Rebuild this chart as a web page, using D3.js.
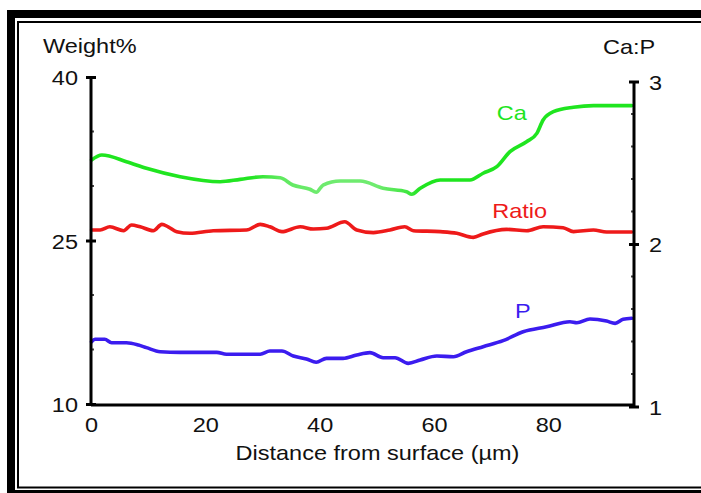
<!DOCTYPE html>
<html>
<head>
<meta charset="utf-8">
<script src="https://cdn.jsdelivr.net/npm/d3@7"></script>
<style>
  html, body { margin: 0; padding: 0; background: #fff; }
  svg { display: block; }
  text { font-family: "Liberation Sans", Arial, Helvetica, sans-serif; }
</style>
</head>
<body>
<script>
// ---------- data ----------
const caDist   = [0.1, 1.9, 6.2, 9.7, 15.6, 22.6, 26.1, 30.1, 33.1, 35.3, 38.3, 39.4, 40.6, 43.6, 47.1, 51.1, 55.2, 56.1, 57.6, 61.1, 66.3, 68.6, 71.0, 73.3, 76.2, 78.0, 79.1, 80.9, 84.4, 87.9, 94.6];
const caValues = [32.39, 32.84, 32.23, 31.62, 30.85, 30.39, 30.61, 30.85, 30.76, 30.09, 29.70, 29.42, 30.09, 30.46, 30.46, 29.79, 29.48, 29.24, 29.79, 30.55, 30.55, 31.17, 31.77, 33.15, 34.06, 34.83, 36.06, 36.82, 37.22, 37.37, 37.37];

const ratioDist   = [0.1, 1.6, 3.3, 5.7, 7.1, 8.6, 10.9, 12.4, 13.5, 15.0, 17.3, 21.4, 27.2, 29.6, 31.3, 33.4, 36.6, 38.9, 41.2, 44.4, 46.5, 49.4, 52.3, 54.9, 56.4, 61.1, 64.0, 66.9, 68.6, 72.7, 76.2, 79.1, 82.6, 84.4, 87.9, 90.2, 94.6];
const ratioValues = [2.086, 2.086, 2.106, 2.082, 2.117, 2.106, 2.082, 2.121, 2.106, 2.076, 2.066, 2.082, 2.086, 2.121, 2.106, 2.076, 2.106, 2.092, 2.097, 2.137, 2.086, 2.070, 2.086, 2.106, 2.082, 2.076, 2.066, 2.041, 2.062, 2.090, 2.082, 2.106, 2.100, 2.076, 2.086, 2.074, 2.074];

const pDist   = [0.1, 0.7, 2.4, 3.6, 6.2, 8.3, 9.7, 12.1, 15.6, 22.0, 23.7, 29.6, 31.3, 33.4, 35.4, 37.7, 39.4, 41.2, 44.1, 46.5, 48.8, 51.1, 53.2, 55.5, 57.6, 60.5, 63.4, 65.7, 68.6, 72.1, 75.6, 79.7, 83.8, 85.0, 87.3, 90.2, 91.7, 93.1, 94.6];
const pValues = [15.72, 15.94, 15.94, 15.62, 15.62, 15.41, 15.17, 14.80, 14.74, 14.74, 14.56, 14.56, 14.86, 14.86, 14.40, 14.13, 13.83, 14.19, 14.19, 14.50, 14.71, 14.25, 14.25, 13.73, 14.04, 14.40, 14.34, 14.80, 15.26, 15.81, 16.63, 17.09, 17.55, 17.46, 17.80, 17.61, 17.40, 17.77, 17.86];

const xTicks      = [0, 20, 40, 60, 80];
const yLeftTicks  = [10, 25, 40];
const yLeftMinor  = [15, 20, 30, 35];
const yRightTicks = [1, 2, 3];
const yRightMinor = [1.2, 1.4, 1.6, 1.8, 2.2, 2.4, 2.6, 2.8];

const leftTitle  = "Weight%";
const rightTitle = "Ca:P";
const xTitle     = "Distance from surface (\u00b5m)";
const seriesNames = ["Ca", "Ratio", "P"];

// ---------- layout ----------
const W = 701, H = 493;
const SX = 1.12; // horizontal stretch of the original lettering
const FS = 21;

const svg = d3.select("body").append("svg").attr("width", W).attr("height", H);

// frame
svg.append("rect").attr("x", 11).attr("y", 14).attr("width", 720).attr("height", 480)
  .attr("fill", "none").attr("stroke", "#000").attr("stroke-width", 8);
svg.append("rect").attr("x", 18).attr("y", 22).attr("width", 720).attr("height", 465.5)
  .attr("fill", "none").attr("stroke", "#000").attr("stroke-width", 2);

const x = d3.scaleLinear().domain([0, 95]).range([91, 634]);
const yL = d3.scaleLinear().domain([10, 40]).range([404, 77]);
const yR = d3.scaleLinear().domain([1, 3]).range([406.5, 81.5]);

function stretchText(sel, anchor) {
  sel.each(function () {
    const t = d3.select(this);
    const xv = +t.attr("x") || 0;
    t.attr("x", xv / SX).attr("transform", `scale(${SX},1)`);
  });
}

// minor ticks (small dots inside)
svg.append("g").selectAll("line").data(yLeftMinor).join("line")
  .attr("x1", x(0) + 1).attr("x2", x(0) + 3)
  .attr("y1", d => yL(d)).attr("y2", d => yL(d))
  .attr("stroke", "#444").attr("stroke-width", 2);
svg.append("g").selectAll("line").data(yRightMinor).join("line")
  .attr("x1", x(95) - 3).attr("x2", x(95) - 1)
  .attr("y1", d => yR(d)).attr("y2", d => yR(d))
  .attr("stroke", "#444").attr("stroke-width", 2);

// ---------- series ----------
const lineL = d3.line().x(d => x(d[0])).y(d => yL(d[1])).curve(d3.curveMonotoneX);
const lineR = d3.line().x(d => x(d[0])).y(d => yR(d[1])).curve(d3.curveMonotoneX);

const defs = svg.append("defs");
const grad = defs.append("linearGradient").attr("id", "caGrad")
  .attr("gradientUnits", "userSpaceOnUse")
  .attr("x1", x(0)).attr("x2", x(95)).attr("y1", 0).attr("y2", 0);
const gStops = [[0, "#1fe51f"], [28, "#22e522"], [33, "#5fe95f"], [40, "#6feb6f"], [50, "#6feb6f"], [55, "#45e745"], [58, "#1fe51f"], [95, "#1fe51f"]];
grad.selectAll("stop").data(gStops).join("stop")
  .attr("offset", d => d[0] / 95).attr("stop-color", d => d[1]);

svg.append("path").datum(d3.zip(caDist, caValues))
  .attr("d", lineL).attr("fill", "none").attr("stroke", "url(#caGrad)")
  .attr("stroke-width", 3.6).attr("stroke-linejoin", "round").attr("stroke-linecap", "round");
svg.append("path").datum(d3.zip(ratioDist, ratioValues))
  .attr("d", lineR).attr("fill", "none").attr("stroke", "#ee1a1a")
  .attr("stroke-width", 3.6).attr("stroke-linejoin", "round").attr("stroke-linecap", "round");
svg.append("path").datum(d3.zip(pDist, pValues))
  .attr("d", lineL).attr("fill", "none").attr("stroke", "#3b1cef")
  .attr("stroke-width", 3.6).attr("stroke-linejoin", "round").attr("stroke-linecap", "round");

// ---------- axes ----------
const gx = svg.append("g").attr("transform", `translate(0,${405})`)
  .call(d3.axisBottom(x).tickValues(xTicks).tickSize(0).tickFormat(d3.format("d")));
gx.select(".domain").attr("stroke", "#000").attr("stroke-width", 3).attr("d", `M${x(0)},0H${x(95)}`);
gx.selectAll(".tick text").attr("y", 27).attr("dy", 0).attr("font-size", FS).attr("fill", "#111")
  .call(stretchText);

const gl = svg.append("g").attr("transform", `translate(${x(0)},0)`)
  .call(d3.axisLeft(yL).tickValues(yLeftTicks).tickSize(5).tickFormat(d3.format("d")));
gl.select(".domain").attr("stroke", "#000").attr("stroke-width", 3).attr("d", `M0,${yL(40)}V${yL(10) + 1}`);
gl.selectAll(".tick line").attr("x1", -5).attr("x2", 5).attr("stroke", "#000").attr("stroke-width", 3);
gl.selectAll(".tick text").attr("x", -13).attr("dy", "0.36em").attr("font-size", FS).attr("fill", "#111")
  .call(stretchText);

const gr = svg.append("g").attr("transform", `translate(${x(95)},0)`)
  .call(d3.axisRight(yR).tickValues(yRightTicks).tickSize(5).tickFormat(d3.format("d")));
gr.select(".domain").attr("stroke", "#000").attr("stroke-width", 3).attr("d", `M0,${yR(3)}V${yR(1) + 1}`);
gr.selectAll(".tick line").attr("x1", -5).attr("x2", 5).attr("stroke", "#000").attr("stroke-width", 3);
gr.selectAll(".tick text").attr("x", 15).attr("dy", "0.36em").attr("font-size", FS).attr("fill", "#111")
  .call(stretchText);

svg.selectAll(".tick text").attr("font-family", null);
gx.attr("font-family", null); gl.attr("font-family", null); gr.attr("font-family", null);

// ---------- titles ----------
function label(txt, px, py, color, anchor) {
  svg.append("text").attr("x", px / SX).attr("y", py)
    .attr("transform", `scale(${SX},1)`)
    .attr("text-anchor", anchor || "start")
    .attr("font-size", FS).attr("fill", color).text(txt);
}
label(leftTitle, 43, 53, "#111");
label(rightTitle, 603, 54, "#111");
label(xTitle, (x(0) + x(95)) / 2 + 15, 460, "#111", "middle");

// series labels (placed in data coordinates)
label(seriesNames[0], x(71.0), yL(36.06), "#1fe51f");
label(seriesNames[1], x(70.2), yR(2.16), "#ee1a1a");
label(seriesNames[2], x(74.2), yL(17.89), "#3b1cef");
</script>
</body>
</html>
